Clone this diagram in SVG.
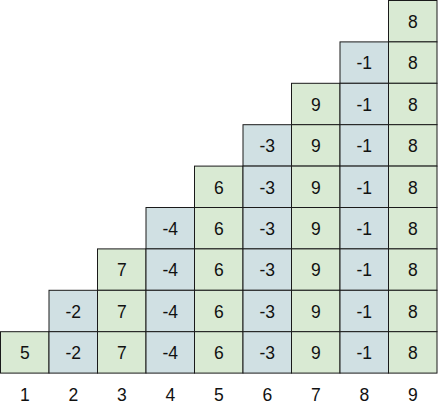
<svg xmlns="http://www.w3.org/2000/svg" width="442" height="414" viewBox="0 0 442 414">
<style>
.g{fill:#d9ead3;stroke:#1a1a1a;stroke-width:1}
.b{fill:#d0e0e3;stroke:#1a1a1a;stroke-width:1}
text{font-family:"Liberation Sans",Arial,sans-serif;font-size:17.5px;fill:#111;text-anchor:middle}
.l{font-size:17.5px}
</style>
<rect width="442" height="414" fill="#fff"/>
<g id="col1">
<rect class="g" x="0.5" y="331.7" width="48.5" height="41.4"/><text x="24.75" y="359.2">5</text>
</g>
<g id="col2">
<rect class="b" x="49" y="290.3" width="48.5" height="41.4"/><text x="73.25" y="317.8">-2</text>
<rect class="b" x="49" y="331.7" width="48.5" height="41.4"/><text x="73.25" y="359.2">-2</text>
</g>
<g id="col3">
<rect class="g" x="97.5" y="248.9" width="48.5" height="41.4"/><text x="121.75" y="276.4">7</text>
<rect class="g" x="97.5" y="290.3" width="48.5" height="41.4"/><text x="121.75" y="317.8">7</text>
<rect class="g" x="97.5" y="331.7" width="48.5" height="41.4"/><text x="121.75" y="359.2">7</text>
</g>
<g id="col4">
<rect class="b" x="146" y="207.5" width="48.5" height="41.4"/><text x="170.25" y="235">-4</text>
<rect class="b" x="146" y="248.9" width="48.5" height="41.4"/><text x="170.25" y="276.4">-4</text>
<rect class="b" x="146" y="290.3" width="48.5" height="41.4"/><text x="170.25" y="317.8">-4</text>
<rect class="b" x="146" y="331.7" width="48.5" height="41.4"/><text x="170.25" y="359.2">-4</text>
</g>
<g id="col5">
<rect class="g" x="194.5" y="166.1" width="48.5" height="41.4"/><text x="218.75" y="193.6">6</text>
<rect class="g" x="194.5" y="207.5" width="48.5" height="41.4"/><text x="218.75" y="235">6</text>
<rect class="g" x="194.5" y="248.9" width="48.5" height="41.4"/><text x="218.75" y="276.4">6</text>
<rect class="g" x="194.5" y="290.3" width="48.5" height="41.4"/><text x="218.75" y="317.8">6</text>
<rect class="g" x="194.5" y="331.7" width="48.5" height="41.4"/><text x="218.75" y="359.2">6</text>
</g>
<g id="col6">
<rect class="b" x="243" y="124.7" width="48.5" height="41.4"/><text x="267.25" y="152.2">-3</text>
<rect class="b" x="243" y="166.1" width="48.5" height="41.4"/><text x="267.25" y="193.6">-3</text>
<rect class="b" x="243" y="207.5" width="48.5" height="41.4"/><text x="267.25" y="235">-3</text>
<rect class="b" x="243" y="248.9" width="48.5" height="41.4"/><text x="267.25" y="276.4">-3</text>
<rect class="b" x="243" y="290.3" width="48.5" height="41.4"/><text x="267.25" y="317.8">-3</text>
<rect class="b" x="243" y="331.7" width="48.5" height="41.4"/><text x="267.25" y="359.2">-3</text>
</g>
<g id="col7">
<rect class="g" x="291.5" y="83.3" width="48.5" height="41.4"/><text x="315.75" y="110.8">9</text>
<rect class="g" x="291.5" y="124.7" width="48.5" height="41.4"/><text x="315.75" y="152.2">9</text>
<rect class="g" x="291.5" y="166.1" width="48.5" height="41.4"/><text x="315.75" y="193.6">9</text>
<rect class="g" x="291.5" y="207.5" width="48.5" height="41.4"/><text x="315.75" y="235">9</text>
<rect class="g" x="291.5" y="248.9" width="48.5" height="41.4"/><text x="315.75" y="276.4">9</text>
<rect class="g" x="291.5" y="290.3" width="48.5" height="41.4"/><text x="315.75" y="317.8">9</text>
<rect class="g" x="291.5" y="331.7" width="48.5" height="41.4"/><text x="315.75" y="359.2">9</text>
</g>
<g id="col8">
<rect class="b" x="340" y="41.9" width="48.5" height="41.4"/><text x="364.25" y="69.4">-1</text>
<rect class="b" x="340" y="83.3" width="48.5" height="41.4"/><text x="364.25" y="110.8">-1</text>
<rect class="b" x="340" y="124.7" width="48.5" height="41.4"/><text x="364.25" y="152.2">-1</text>
<rect class="b" x="340" y="166.1" width="48.5" height="41.4"/><text x="364.25" y="193.6">-1</text>
<rect class="b" x="340" y="207.5" width="48.5" height="41.4"/><text x="364.25" y="235">-1</text>
<rect class="b" x="340" y="248.9" width="48.5" height="41.4"/><text x="364.25" y="276.4">-1</text>
<rect class="b" x="340" y="290.3" width="48.5" height="41.4"/><text x="364.25" y="317.8">-1</text>
<rect class="b" x="340" y="331.7" width="48.5" height="41.4"/><text x="364.25" y="359.2">-1</text>
</g>
<g id="col9">
<rect class="g" x="388.5" y="0.5" width="48.5" height="41.4"/><text x="412.75" y="28">8</text>
<rect class="g" x="388.5" y="41.9" width="48.5" height="41.4"/><text x="412.75" y="69.4">8</text>
<rect class="g" x="388.5" y="83.3" width="48.5" height="41.4"/><text x="412.75" y="110.8">8</text>
<rect class="g" x="388.5" y="124.7" width="48.5" height="41.4"/><text x="412.75" y="152.2">8</text>
<rect class="g" x="388.5" y="166.1" width="48.5" height="41.4"/><text x="412.75" y="193.6">8</text>
<rect class="g" x="388.5" y="207.5" width="48.5" height="41.4"/><text x="412.75" y="235">8</text>
<rect class="g" x="388.5" y="248.9" width="48.5" height="41.4"/><text x="412.75" y="276.4">8</text>
<rect class="g" x="388.5" y="290.3" width="48.5" height="41.4"/><text x="412.75" y="317.8">8</text>
<rect class="g" x="388.5" y="331.7" width="48.5" height="41.4"/><text x="412.75" y="359.2">8</text>
</g>
<g id="labels">
<text class="l" x="24.75" y="400.5">1</text>
<text class="l" x="73.25" y="400.5">2</text>
<text class="l" x="121.75" y="400.5">3</text>
<text class="l" x="170.25" y="400.5">4</text>
<text class="l" x="218.75" y="400.5">5</text>
<text class="l" x="267.25" y="400.5">6</text>
<text class="l" x="315.75" y="400.5">7</text>
<text class="l" x="364.25" y="400.5">8</text>
<text class="l" x="412.75" y="400.5">9</text>
</g>
</svg>
